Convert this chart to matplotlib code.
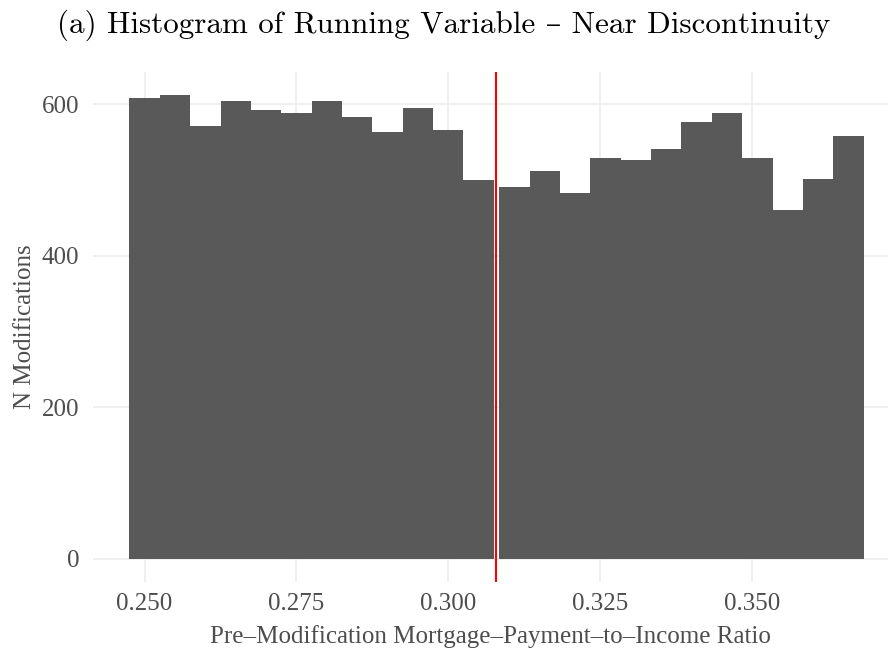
# Histogram of running variable near the discontinuity
import numpy as np
import matplotlib.pyplot as plt

# bins left of the cutoff
left_edges = [0.2475, 0.2525, 0.2575, 0.2625, 0.2675, 0.2725,
              0.2775, 0.2825, 0.2875, 0.2925, 0.2975, 0.3025]
left_counts = [608, 612, 571, 605, 592, 588, 604, 583, 563, 595, 566, 500]
# bins right of the cutoff
right_edges = [0.3084, 0.3134, 0.3184, 0.3234, 0.3284, 0.3334,
               0.3384, 0.3434, 0.3484, 0.3534, 0.3584, 0.3634]
right_counts = [491, 512, 483, 529, 527, 541, 576, 588, 529, 461, 502, 558]
bin_width = 0.005
cutoff = 0.3079

x_ticks = [0.250, 0.275, 0.300, 0.325, 0.350]
x_ticklabels = ["0.250", "0.275", "0.300", "0.325", "0.350"]
y_ticks = [0, 200, 400, 600]

title = "(a) Histogram of Running Variable – Near Discontinuity"
xlabel = "Pre–Modification Mortgage–Payment–to–Income Ratio"
ylabel = "N Modifications"

bar_col = "#595959"
grid_col = "#EBEBEB"
txt_col = "#4D4D4D"

fig = plt.figure(figsize=(8.88, 6.56), dpi=100)
ax = fig.add_axes([0.1047, 0.1128, 0.8953, 0.7774])

ax.bar(left_edges, left_counts, width=bin_width, align="edge",
       color=bar_col, linewidth=0, zorder=2)
ax.bar(right_edges, right_counts, width=bin_width, align="edge",
       color=bar_col, linewidth=0, zorder=2)
ax.axvline(cutoff, color="#FF0000", linewidth=1.5, zorder=3)

ax.set_xlim(0.2415, 0.3724)
ax.set_ylim(-30.6, 642.6)
ax.set_xticks(x_ticks)
ax.set_xticklabels(x_ticklabels)
ax.set_yticks(y_ticks)

ax.grid(True, color=grid_col, linewidth=1.1, zorder=0)
ax.set_axisbelow(True)
for s in ax.spines.values():
    s.set_visible(False)

serif = ["Liberation Serif", "DejaVu Serif"]
ax.tick_params(length=0, labelsize=18, labelcolor=txt_col)
ax.tick_params(axis="x", pad=8)
ax.tick_params(axis="y", pad=10)
for lab in ax.get_xticklabels() + ax.get_yticklabels():
    lab.set_family(serif)

ax.set_xlabel(xlabel, fontsize=18, color=txt_col, family=serif, labelpad=7)
ax.set_ylabel(ylabel, fontsize=18, color=txt_col, family=serif, labelpad=4)

fig.text(0.5, 0.962, title, ha="center", va="center", fontsize=22.4,
         family=["cmr10", "DejaVu Serif"], color="black")

fig.savefig("out.png", dpi=100)
